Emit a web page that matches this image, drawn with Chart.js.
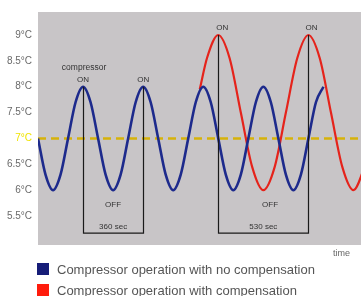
<!DOCTYPE html>
<html>
<head>
<meta charset="utf-8">
<script src="https://cdn.jsdelivr.net/npm/chart.js@4.4.1/dist/chart.umd.min.js"></script>
<style>
  html, body { margin: 0; padding: 0; background: #fff; }
  #wrap { width: 361px; height: 296px; position: relative; }
</style>
</head>
<body>
<div id="wrap"><canvas id="chart" width="361" height="296"></canvas></div>
<script>
// time in seconds, counted from the left edge of the plot
const blueTimes = [0, 45, 90, 135, 180, 225, 270, 315, 360, 405, 450, 495, 540, 585, 630, 675, 720, 765, 810,
    855, 900, 945, 990, 1035, 1080, 1125, 1170, 1215, 1260, 1305, 1350, 1395, 1440, 1485, 1530, 1575, 1620, 1665, 1710];
const blueTemps = [7, 6.3, 6, 6.3, 7, 7.7, 8, 7.7, 7, 6.3, 6, 6.3, 7, 7.7, 8, 7.7, 7, 6.3, 6,
    6.3, 7, 7.7, 8, 7.7, 7, 6.3, 6, 6.3, 7, 7.7, 8, 7.7, 7, 6.3, 6, 6.3, 7, 7.7, 8];

const redTimes = [969, 1013, 1080, 1148, 1215, 1283, 1350, 1418, 1485, 1553, 1620, 1688, 1755, 1823, 1890, 1958];
const redTemps = [7.95, 8.56, 9, 8.55, 7.5, 6.45, 6, 6.45, 7.5, 8.55, 9, 8.55, 7.5, 6.45, 6, 6.45];

const setPoint = 7;
const yTicks = [5.5, 6, 6.5, 7, 7.5, 8, 8.5, 9];
const timeEnd = 1935;

// compressor cycles: ON peak to ON peak
const cycleStart = [270, 1080];
const cycleEnd = [630, 1620];
const cycleTop = [8, 9];
const cycleText = ['360 sec', '530 sec'];

const seriesNames = ['Compressor operation with no compensation', 'Compressor operation with compensation'];

const pts = (xs, ys) => xs.map((x, i) => ({ x: x, y: ys[i] }));

const FONT = '"Liberation Sans", Arial, sans-serif';

const decor = {
    id: 'decor',
    beforeDraw(chart) {
        const { ctx, chartArea: a } = chart;
        ctx.save();
        ctx.fillStyle = '#c8c5c7';
        ctx.fillRect(a.left, a.top, a.right - a.left, a.bottom - a.top);
        ctx.restore();
    },
    afterDatasetsDraw(chart) {
        const { ctx, scales: { x, y } } = chart;
        const bottom = y.getPixelForValue(5.17);
        ctx.save();
        ctx.strokeStyle = '#1a1a1a';
        ctx.lineWidth = 1.2;
        cycleStart.forEach((t0, i) => {
            const x0 = Math.round(x.getPixelForValue(t0)) + 0.5;
            const x1 = Math.round(x.getPixelForValue(cycleEnd[i])) + 0.5;
            const top = y.getPixelForValue(cycleTop[i]);
            ctx.beginPath();
            ctx.moveTo(x0, top);
            ctx.lineTo(x0, bottom);
            ctx.lineTo(x1, bottom);
            ctx.lineTo(x1, top);
            ctx.stroke();
        });

        ctx.fillStyle = '#333';
        ctx.textAlign = 'center';
        ctx.textBaseline = 'middle';
        ctx.font = '8px ' + FONT;
        const label = (txt, t, v) => ctx.fillText(txt, x.getPixelForValue(t), y.getPixelForValue(v));
        cycleStart.forEach((t0, i) => {
            const mid = (t0 + cycleEnd[i]) / 2;
            label(cycleText[i], mid, 5.29);
            label('OFF', mid + (i ? 40 : 0), 5.72);
        });
        ctx.font = '8.5px ' + FONT;
        label('compressor', 276, 8.37);
        ctx.font = '8px ' + FONT;
        label('ON', 270, 8.13);
        label('ON', 630, 8.13);
        label('ON', 1104, 9.14);
        label('ON', 1638, 9.14);
        ctx.restore();
    },
    afterDraw(chart) {
        const { ctx } = chart;
        ctx.save();
        ctx.fillStyle = '#666';
        ctx.font = '9px ' + FONT;
        ctx.textBaseline = 'middle';
        ctx.fillText('time', 333, 254);

        const boxColors = ['#161d78', '#ff1c0c'];
        ctx.font = '13px ' + FONT;
        seriesNames.forEach((name, i) => {
            const cy = 269 + i * 21;
            ctx.fillStyle = boxColors[i];
            ctx.fillRect(37, cy - 6, 12, 12);
            ctx.fillStyle = '#555';
            ctx.fillText(name, 57, cy + 1);
        });
        ctx.restore();
    }
};

new Chart(document.getElementById('chart').getContext('2d'), {
    type: 'line',
    data: {
        datasets: [{
            label: seriesNames[0],
            data: pts(blueTimes, blueTemps),
            borderColor: '#1d2a8c',
            borderWidth: 2.6,
            pointRadius: 0,
            cubicInterpolationMode: 'monotone'
        }, {
            label: seriesNames[1],
            data: pts(redTimes, redTemps),
            borderColor: '#e5231b',
            borderWidth: 2.2,
            pointRadius: 0,
            cubicInterpolationMode: 'monotone'
        }, {
            label: 'set point',
            data: [{ x: 0, y: setPoint }, { x: timeEnd, y: setPoint }],
            borderColor: '#d6b20a',
            borderWidth: 2.5,
            borderDash: [8, 5],
            pointRadius: 0
        }]
    },
    options: {
        responsive: false,
        animation: false,
        layout: { padding: { top: 12, right: 0, bottom: 51, left: 0 } },
        plugins: {
            legend: { display: false },
            tooltip: { enabled: false }
        },
        scales: {
            x: {
                type: 'linear',
                min: 0,
                max: timeEnd,
                display: false
            },
            y: {
                min: 4.94,
                max: 9.445,
                grid: { display: false, drawTicks: false },
                border: { display: false },
                afterBuildTicks: s => { s.ticks = yTicks.map(v => ({ value: v })); },
                afterFit: s => { s.width = 38; },
                ticks: {
                    padding: 6,
                    font: { family: FONT, size: 10 },
                    color: c => c.tick.value === setPoint ? '#f0e400' : '#6a6a6a',
                    callback: v => v + '°C'
                }
            }
        }
    },
    plugins: [decor]
});
</script>
</body>
</html>
